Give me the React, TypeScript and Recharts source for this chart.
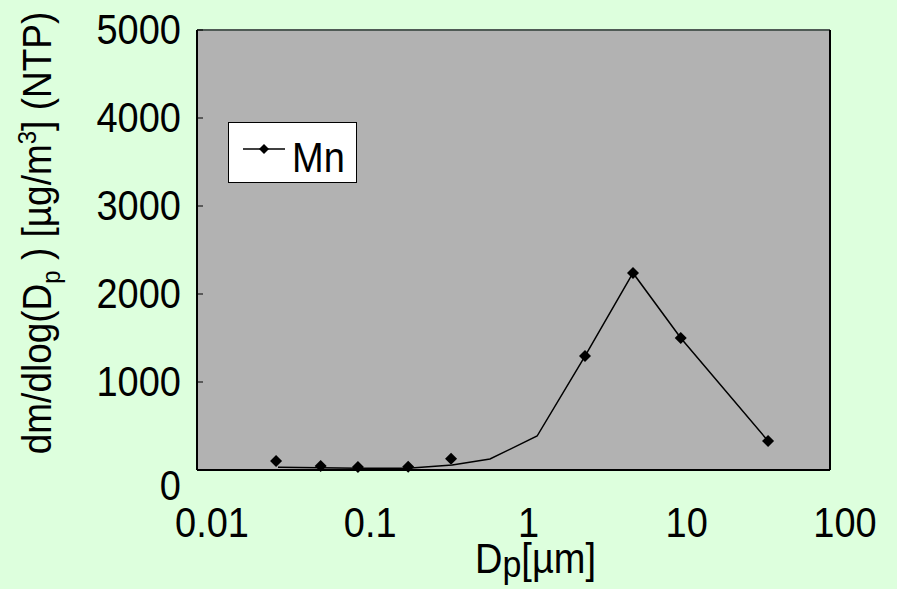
import {
  ComposedChart,
  Line,
  Scatter,
  XAxis,
  YAxis,
  CartesianGrid,
  ReferenceLine,
} from "recharts";

// particle diameter [µm] and Mn mass distribution
const lineDp = [0.0325, 0.06, 0.104, 0.215, 0.41, 0.71, 1.41, 2.83, 5.69, 11.4, 40.6];
const lineMn = [30, 26, 20, 20, 57, 125, 386, 1295, 2239, 1500, 330];
const markDp = [0.0316, 0.0605, 0.104, 0.216, 0.403, 2.83, 5.69, 11.4, 40.6];
const markMn = [102, 45, 34, 38, 128, 1295, 2239, 1500, 330];
const xTicks = [0.01, 0.1, 1, 10, 100];
const yTicks = [0, 1000, 2000, 3000, 4000, 5000];
const seriesName = "Mn";

const lineData = lineDp.map((dp, i) => ({ dp, mn: lineMn[i] }));
const markData = markDp.map((dp, i) => ({ dp, mn: markMn[i] }));

const FONT = "'Liberation Sans', Arial, sans-serif";
const STRETCH = 1.1;

const XTick = (props: any) => {
  const { x, payload } = props;
  return (
    <text
      transform={`translate(${x + 15}, 537) scale(1, ${STRETCH})`}
      textAnchor="middle"
      fontFamily={FONT}
      fontSize={38}
      fill="#000"
    >
      {payload.value}
    </text>
  );
};

const YTick = (props: any) => {
  const { y, payload } = props;
  // Excel pushes the 0 label down below the axis
  const ty = payload.value === 0 ? y + 30 : y + 14;
  return (
    <g>
      <line x1={197} x2={203} y1={y} y2={y} stroke="#000" strokeWidth={1} />
      <text
        transform={`translate(181, ${ty}) scale(1, ${STRETCH})`}
        textAnchor="end"
        fontFamily={FONT}
        fontSize={38}
        fill="#000"
      >
        {payload.value}
      </text>
    </g>
  );
};

const Diamond = (props: any) => {
  const { cx, cy } = props;
  const r = 6;
  return (
    <polygon
      points={`${cx},${cy - r} ${cx + r},${cy} ${cx},${cy + r} ${cx - r},${cy}`}
      fill="#000"
    />
  );
};

export default function App() {
  return (
    <div
      style={{
        position: "absolute",
        left: 0,
        top: 0,
        width: 897,
        height: 589,
        background: "#DDFFDD",
      }}
    >
      <ComposedChart
        width={897}
        height={589}
        margin={{ top: 30, right: 67, bottom: 0, left: 0 }}
      >
        <CartesianGrid fill="#B2B2B2" horizontal={false} vertical={false} />
        <XAxis
          dataKey="dp"
          type="number"
          scale="log"
          domain={[0.01, 100]}
          ticks={xTicks}
          allowDataOverflow
          height={119}
          axisLine={{ stroke: "#000", strokeWidth: 2 }}
          tickLine={false}
          tick={<XTick />}
          interval={0}
        />
        <YAxis
          dataKey="mn"
          type="number"
          domain={[0, 5000]}
          ticks={yTicks}
          width={197}
          axisLine={{ stroke: "#000", strokeWidth: 2 }}
          tickLine={false}
          tick={<YTick />}
          interval={0}
        />
        <ReferenceLine y={5000} stroke="#4F5A55" strokeWidth={2} />
        <ReferenceLine x={100} stroke="#000" strokeWidth={2} />
        <Line
          data={lineData}
          dataKey="mn"
          type="linear"
          stroke="#000"
          strokeWidth={1.5}
          dot={false}
          legendType="none"
          isAnimationActive={false}
        />
        <Scatter
          data={markData}
          dataKey="mn"
          name={seriesName}
          fill="#000"
          shape={<Diamond />}
          isAnimationActive={false}
        />
        {/* legend box */}
        <g transform="translate(228, 122)">
          <rect x={0.5} y={0.5} width={128} height={60} fill="#fff" stroke="#000" />
          <line x1={15} x2={57} y1={27} y2={27} stroke="#000" strokeWidth={1.5} />
          <polygon points="36,22 41,27 36,32 31,27" fill="#000" />
          <text
            transform={`translate(64, 50) scale(1, ${STRETCH})`}
            fontFamily={FONT}
            fontSize={38}
            fill="#000"
          >
            {seriesName}
          </text>
        </g>
        {/* axis titles */}
        <text
          transform={`translate(51, 233) rotate(-90) scale(1, ${STRETCH})`}
          textAnchor="middle"
          fontFamily={FONT}
          fontSize={37}
          fill="#000"
        >
          dm/dlog(D
          <tspan fontSize={24} dy={8}>p</tspan>
          <tspan dy={-8}> ) [µg/m</tspan>
          <tspan fontSize={24} dy={-14}>3</tspan>
          <tspan dy={14}>] (NTP)</tspan>
        </text>
        <text
          transform={`translate(475, 573) scale(1, ${STRETCH})`}
          fontFamily={FONT}
          fontSize={38}
          fill="#000"
        >
          D<tspan fontSize={34} dy={4}>p</tspan>
          <tspan dy={-4}>[µm]</tspan>
        </text>
      </ComposedChart>
    </div>
  );
}
